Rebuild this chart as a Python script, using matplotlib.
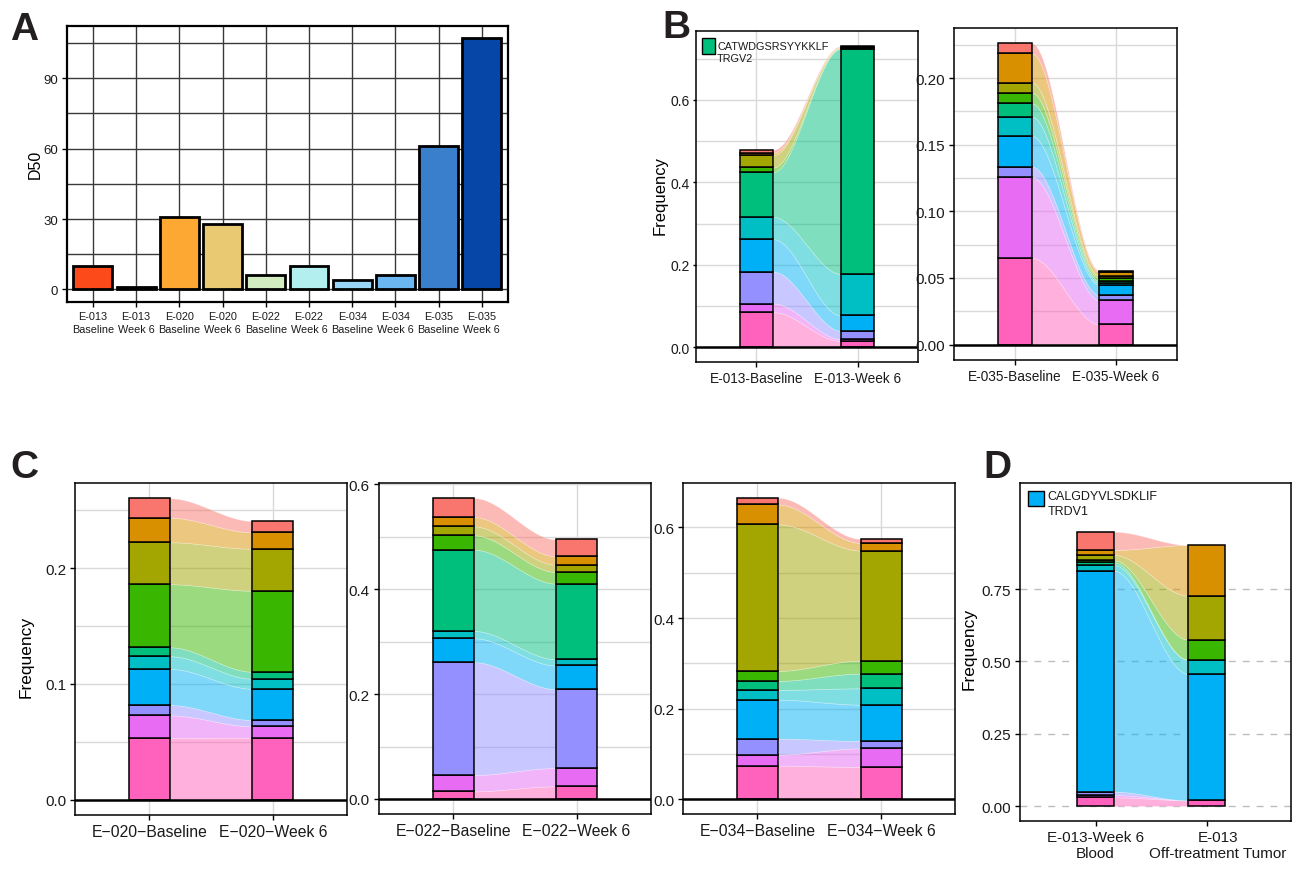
import numpy as np
import matplotlib
matplotlib.use("Agg")
import matplotlib.pyplot as plt
import matplotlib.transforms as mtransforms
from matplotlib.colors import to_rgba
from matplotlib.patches import Rectangle

plt.rcParams['font.family'] = ['Liberation Sans', 'DejaVu Sans']

# ---------------- data ----------------
# Panel A
a_labels = ["E-013\nBaseline", "E-013\nWeek 6", "E-020\nBaseline", "E-020\nWeek 6",
            "E-022\nBaseline", "E-022\nWeek 6", "E-034\nBaseline", "E-034\nWeek 6",
            "E-035\nBaseline", "E-035\nWeek 6"]
a_d50 = [10, 1, 31, 28, 6, 10, 4, 6, 61, 107]
a_colors = ["#FC4A1A", "#B2182B", "#FCA832", "#E9CA73", "#D3EBC0", "#B4EFEF",
            "#99D5F7", "#6BB7F2", "#3A7FCB", "#0546A6"]

# clone colours, stacked bottom -> top
clone_colors = ["#FF62BC", "#E76BF3", "#9590FF", "#00B0F6", "#00BFC4",
                "#00BF7D", "#39B600", "#A3A500", "#D89000", "#F8766D"]

# Panel B
b013_labels = ["E-013-Baseline", "E-013-Week 6"]
b013_base = [0.085, 0.021, 0.077, 0.079, 0.054, 0.109, 0.011, 0.030, 0.006, 0.007]
b013_w6 = [0.015, 0.005, 0.020, 0.037, 0.101, 0.546, 0.001, 0.001, 0.002, 0.002]
b035_labels = ["E-035-Baseline", "E-035-Week 6"]
b035_base = [0.065, 0.0605, 0.008, 0.023, 0.0145, 0.010, 0.008, 0.0075, 0.022, 0.0075]
b035_w6 = [0.0153, 0.018, 0.004, 0.0075, 0.0015, 0.0015, 0.002, 0.002, 0.0028, 0.001]
b_legend = "CATWDGSRSYYKKLF\nTRGV2"

# Panel C
c020_labels = ["E\u2212020\u2212Baseline", "E\u2212020\u2212Week 6"]
c020_base = [0.0533, 0.0196, 0.0089, 0.0312, 0.011, 0.0077, 0.0545, 0.0363, 0.0212, 0.0168]
c020_w6 = [0.0536, 0.0098, 0.0055, 0.027, 0.0087, 0.006, 0.07, 0.0363, 0.0142, 0.0098]
c022_labels = ["E\u2212022\u2212Baseline", "E\u2212022\u2212Week 6"]
c022_base = [0.0146, 0.0311, 0.2153, 0.0457, 0.0139, 0.155, 0.0273, 0.0171, 0.0178, 0.0362]
c022_w6 = [0.0241, 0.0349, 0.1505, 0.0451, 0.0121, 0.1441, 0.0222, 0.014, 0.0159, 0.0323]
c034_labels = ["E\u2212034\u2212Baseline", "E\u2212034\u2212Week 6"]
c034_base = [0.0744, 0.0243, 0.0353, 0.086, 0.0215, 0.0199, 0.022, 0.3236, 0.0436, 0.0147]
c034_w6 = [0.0715, 0.0411, 0.0164, 0.08, 0.036, 0.0325, 0.0285, 0.243, 0.017, 0.0088]

# Panel D
d_labels = ["E-013-Week 6\nBlood", "E-013\nOff-treatment Tumor"]
d_blood = [0.030, 0.008, 0.0115, 0.7635, 0.020, 0.009, 0.007, 0.0186, 0.0174, 0.063]
d_tumor = [0.0197, 0.0, 0.0, 0.4365, 0.05, 0.0, 0.069, 0.152, 0.175, 0.0]
d_legend = "CALGDYVLSDKLIF\nTRDV1"

# ---------------- figure ----------------
W, H = 1298, 870
fig = plt.figure(figsize=(W / 100, H / 100), dpi=100)


def px_axes(l, t, r, b):
    return fig.add_axes([l / W, 1 - b / H, (r - l) / W, (b - t) / H])


TICKC = "#1a1a1a"


def alluvial(ax, v1, v2, labels, ylim, yticks, ylabels, yminor, xfs=11.3, yfs=11,
             hline=True, dashed=False):
    bw = 1 / 3
    c1 = np.concatenate([[0], np.cumsum(v1)])
    c2 = np.concatenate([[0], np.cumsum(v2)])
    x0, x1 = 1 + bw / 2, 2 - bw / 2
    xs = np.linspace(x0, x1, 80)
    t = (xs - x0) / (x1 - x0)
    s = t * t * (3 - 2 * t)
    for i, col in enumerate(clone_colors):
        lo = c1[i] + (c2[i] - c1[i]) * s
        hi = c1[i + 1] + (c2[i + 1] - c1[i + 1]) * s
        ax.fill_between(xs, lo, hi, facecolor=to_rgba(col, 0.5),
                        edgecolor=(1, 1, 1, 0.35), lw=0.5, zorder=1)
    for xpos, vals, cum in ((1, v1, c1), (2, v2, c2)):
        for i, col in enumerate(clone_colors):
            if vals[i] > 0:
                ax.bar(xpos, vals[i], bottom=cum[i], width=bw, color=col,
                       edgecolor="black", lw=1.1, zorder=3)
    ax.set_xlim(0.4, 2.6)
    ax.set_ylim(*ylim)
    ax.set_xticks([1, 2])
    ax.set_xticklabels(labels, fontsize=xfs, color=TICKC)
    ax.set_yticks(yticks)
    ax.set_yticklabels(ylabels, fontsize=yfs, color=TICKC)
    if dashed:
        for yv in yticks:
            ax.axhline(yv, color="#BDBDBD", lw=1.0, ls=(0, (5, 5)), zorder=0.5)
    else:
        ax.set_yticks(yminor, minor=True)
        ax.grid(which="both", axis="y", color="#D9D9D9", lw=1.0, zorder=0)
        ax.grid(which="major", axis="x", color="#D9D9D9", lw=1.0, zorder=0)
        ax.set_axisbelow(True)
    ax.tick_params(which="minor", length=0)
    ax.tick_params(which="major", length=3.6, width=1.0, color="black", pad=3)
    for sp in ax.spines.values():
        sp.set_linewidth(1.1)
        sp.set_color("black")
    if hline:
        ax.axhline(0, color="black", lw=1.8, zorder=4)


def legend_box(ax, color, text, x0, y0, x1, y1, tx, ty, fs):
    ax.add_patch(Rectangle((x0, y1), x1 - x0, y0 - y1, transform=ax.transAxes,
                           facecolor=color, edgecolor="black", lw=1.0, zorder=6,
                           clip_on=False))
    ax.text(tx, ty, text, transform=ax.transAxes, fontsize=fs, va="top", ha="left",
            color=TICKC, linespacing=1.25, zorder=6)


# ---------------- Panel A ----------------
axA = px_axes(67, 26.7, 507.7, 303)
xa = np.arange(1, len(a_d50) + 1)
axA.bar(xa, a_d50, width=0.9, color=a_colors, edgecolor="black", lw=2.0, zorder=3)
axA.set_xlim(0.4, 10.6)
axA.set_ylim(-5.35, 112.35)
axA.set_yticks([0, 30, 60, 90])
axA.set_yticks([15, 45, 75, 105], minor=True)
axA.set_xticks(xa)
axA.set_xticklabels(a_labels, fontsize=7.8, linespacing=1.4, color=TICKC)
axA.set_yticklabels(["0", "30", "60", "90"], fontsize=9.5, color=TICKC)
axA.grid(which="both", color="#3a3a3a", lw=1.0, zorder=0)
axA.set_axisbelow(True)
axA.tick_params(which="minor", length=0)
axA.tick_params(which="major", length=3.6, width=1.0, pad=3)
for sp in axA.spines.values():
    sp.set_linewidth(1.6)
axA.set_ylabel("D50", fontsize=11.5)
axA.yaxis.set_label_coords(-0.054, 0.5)

# ---------------- Panel B ----------------
axB1 = px_axes(695.7, 31.7, 918.3, 363.3)
alluvial(axB1, b013_base, b013_w6, b013_labels, (-0.0366, 0.7676),
         [0, 0.2, 0.4, 0.6], ["0.0", "0.2", "0.4", "0.6"], [0.1, 0.3, 0.5, 0.7],
         xfs=9.8, yfs=10)
axB1.tick_params(axis="y", which="major", length=2.5, pad=1.5)
axB1.set_ylabel("Frequency", fontsize=12)
axB1.yaxis.set_label_coords(-0.125, 0.505)
legend_box(axB1, clone_colors[5], b_legend, 0.027, 0.977, 0.087, 0.93, 0.096, 0.97, 7.8)

axB2 = px_axes(954.3, 29.3, 1176.7, 360.7)
alluvial(axB2, b035_base, b035_w6, b035_labels, (-0.0113, 0.2373),
         [0, 0.05, 0.10, 0.15, 0.20], ["0.00", "0.05", "0.10", "0.15", "0.20"],
         [0.025, 0.075, 0.125, 0.175, 0.225], xfs=9.8, yfs=11)

# ---------------- Panel C ----------------
axC1 = px_axes(75.3, 484, 347, 815.7)
alluvial(axC1, c020_base, c020_w6, c020_labels, (-0.013, 0.2737),
         [0, 0.1, 0.2], ["0.0", "0.1", "0.2"], [0.05, 0.15, 0.25])
axC1.set_ylabel("Frequency", fontsize=12.5)
axC1.yaxis.set_label_coords(-0.155, 0.48)

axC2 = px_axes(379, 484, 650.7, 815)
alluvial(axC2, c022_base, c022_w6, c022_labels, (-0.0287, 0.6027),
         [0, 0.2, 0.4, 0.6], ["0.0", "0.2", "0.4", "0.6"], [0.1, 0.3, 0.5])

axC3 = px_axes(683.3, 484, 955.3, 815.3)
alluvial(axC3, c034_base, c034_w6, c034_labels, (-0.033, 0.698),
         [0, 0.2, 0.4, 0.6], ["0.0", "0.2", "0.4", "0.6"], [0.1, 0.3, 0.5])

# ---------------- Panel D ----------------
axD = px_axes(1020, 484, 1291, 821.7)
alluvial(axD, d_blood, d_tumor, d_labels, (-0.0508, 1.1165),
         [0, 0.25, 0.5, 0.75], ["0.00", "0.25", "0.50", "0.75"], [],
         hline=False, dashed=True, xfs=11)
axD.set_xlim(0.32, 2.76)
axD.set_ylabel("Frequency", fontsize=12.5)
axD.yaxis.set_label_coords(-0.16, 0.513)
legend_box(axD, clone_colors[3], d_legend, 0.0295, 0.976, 0.0886, 0.932, 0.102, 0.978, 9)
# shift the right-hand tick label a little right so the two labels don't collide
lbl = axD.get_xticklabels()[1]
lbl.set_transform(lbl.get_transform() + mtransforms.ScaledTranslation(0.11, 0, fig.dpi_scale_trans))

# ---------------- panel letters ----------------
for letter, x, y in (("A", 10, 40), ("B", 662, 38), ("C", 10, 478), ("D", 983, 478)):
    fig.text(x / W, 1 - y / H, letter, fontsize=28, fontweight="bold", ha="left",
             va="baseline", color="#231F20")

fig.savefig("out.png", dpi=100)
